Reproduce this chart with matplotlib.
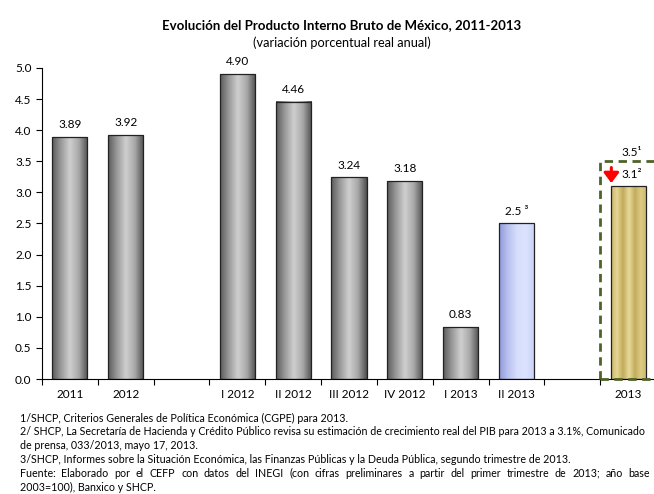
import numpy as np
import matplotlib
matplotlib.use("Agg")
import matplotlib.pyplot as plt
from matplotlib.colors import LinearSegmentedColormap

plt.rcParams['font.family'] = ['Lato', 'DejaVu Sans']

categories = ['2011', '2012', '', 'I 2012', 'II 2012', 'III 2012', 'IV 2012', 'I 2013', 'II 2013', '', '2013']
values = [3.89, 3.92, np.nan, 4.90, 4.46, 3.24, 3.18, 0.83, 2.5, np.nan, 3.1]
labels = ['3.89', '3.92', '', '4.90', '4.46', '3.24', '3.18', '0.83', '2.5 ³', '', '']
kinds = ['g', 'g', '', 'g', 'g', 'g', 'g', 'g', 'b', '', 'y']
cgpe_2013 = 3.5
revised_2013 = 3.1
yticks = [0.0, 0.5, 1.0, 1.5, 2.0, 2.5, 3.0, 3.5, 4.0, 4.5, 5.0]

title = 'Evolución del Producto Interno Bruto de México, 2011-2013'
subtitle = '(variación porcentual real anual)'
notes = [
    '1/SHCP, Criterios Generales de Política Económica (CGPE) para 2013.',
    '2/ SHCP, La Secretaría de Hacienda y Crédito Público revisa su estimación de crecimiento real del PIB para 2013 a 3.1%, Comunicado',
    'de prensa, 033/2013, mayo 17, 2013.',
    '3/SHCP, Informes sobre la Situación Económica, las Finanzas Públicas y la Deuda Pública, segundo trimestre de 2013.',
    'Fuente: Elaborado por el CEFP con datos del INEGI (con cifras preliminares a partir del primer trimestre de 2013; año base',
    '2003=100), Banxico y SHCP.',
]
justify = [False, False, False, False, True, False]

cmaps = {
    'g': LinearSegmentedColormap.from_list('g', ['#5a5a5a', '#9a9a9a', '#cfcfcf', '#a8a8a8', '#4e4e4e']),
    'b': LinearSegmentedColormap.from_list('b', ['#8f98d8', '#b9c2f0', '#d6defc', '#dbe3ff', '#c8d2f5']),
    'y': LinearSegmentedColormap.from_list('y', ['#c9b368', '#e6d796', '#c2aa58', '#e8da9c', '#c4ac5c', '#dccb85', '#cdb86c']),
}

fig = plt.figure(figsize=(6.54, 4.94), dpi=100)
ax = fig.add_axes([42/654, 115/494, (656-42)/654, (379-68)/494])
x = np.arange(len(categories))
w = 0.63
grad = np.linspace(0, 1, 256).reshape(1, -1)
for xi, v, k in zip(x, values, kinds):
    if np.isnan(v):
        continue
    ax.imshow(grad, cmap=cmaps[k], extent=[xi - w/2, xi + w/2, 0, v], aspect='auto', zorder=2)
    ax.bar(xi, v, width=w, facecolor='none', edgecolor='#222222', linewidth=0.9, zorder=3)
for xi, v, lab in zip(x, values, labels):
    if lab:
        ax.annotate(lab, (xi, v), xytext=(0, 5), textcoords='offset points',
                    ha='center', va='bottom', fontsize=8.5)

# dashed box around 2013 estimates
ax.plot([9.5, 9.5, 11.0], [0, cgpe_2013, cgpe_2013], linestyle=(0, (3, 2)), color='#4f6228',
        linewidth=2, zorder=4, clip_on=False)
ax.plot([9.5, 11.0], [0, 0], linestyle=(0, (3, 2)), color='#4f6228', linewidth=2, zorder=4, clip_on=False)
ax.text(9.88, cgpe_2013 + 0.05, '3.5¹', fontsize=8.5, ha='left', va='bottom')
ax.text(9.88, revised_2013 + 0.1, '3.1²', fontsize=8.5, ha='left', va='bottom')
ax.annotate('', xy=(9.7, revised_2013 + 0.05), xytext=(9.7, revised_2013 + 0.3),
            arrowprops=dict(arrowstyle='-|>,head_length=0.6,head_width=0.45', color='#ff0000',
                            lw=2.2, mutation_scale=10, shrinkA=0, shrinkB=0))

ax.set_xlim(-0.5, 10.5)
ax.set_ylim(0, 5)
ax.set_yticks(yticks)
ax.set_yticklabels([f'{t:.1f}' for t in yticks], fontsize=8.5)
ax.set_xticks(x)
ax.set_xticklabels(categories, fontsize=8.5)
ax.tick_params(axis='x', length=0, pad=7)
ax.set_xticks(np.arange(-0.5, 10.5, 1.0), minor=True)
ax.tick_params(axis='x', which='minor', length=4, direction='out', width=0.8)
ax.tick_params(axis='y', length=4, direction='out', width=0.8)
for s in ['top', 'right']:
    ax.spines[s].set_visible(False)
ax.spines['left'].set_linewidth(0.8)
ax.spines['bottom'].set_linewidth(0.8)

fig.text(342/654, 1 - 25/494, title, ha='center', va='center', fontsize=9.5, fontweight='bold')
fig.text(342/654, 1 - 43/494, subtitle, ha='center', va='center', fontsize=9.2)

renderer = fig.canvas.get_renderer()
W = fig.bbox.width
for i, (n, jus) in enumerate(zip(notes, justify)):
    yy = 1 - (418 + 13.8*i)/494
    if not jus:
        fig.text(20/654, yy, n, ha='left', va='center', fontsize=7.7)
        continue
    words = n.split(' ')
    texts = [fig.text(0, yy, wd, ha='left', va='center', fontsize=7.7) for wd in words]
    widths = [t.get_window_extent(renderer).width for t in texts]
    x0, x1 = 20.0, 650.0
    gap = (x1 - x0 - sum(widths)) / (len(words) - 1)
    cur = x0
    for t, wdt in zip(texts, widths):
        t.set_x(cur / W)
        cur += wdt + gap

fig.savefig('out.png', dpi=100)
